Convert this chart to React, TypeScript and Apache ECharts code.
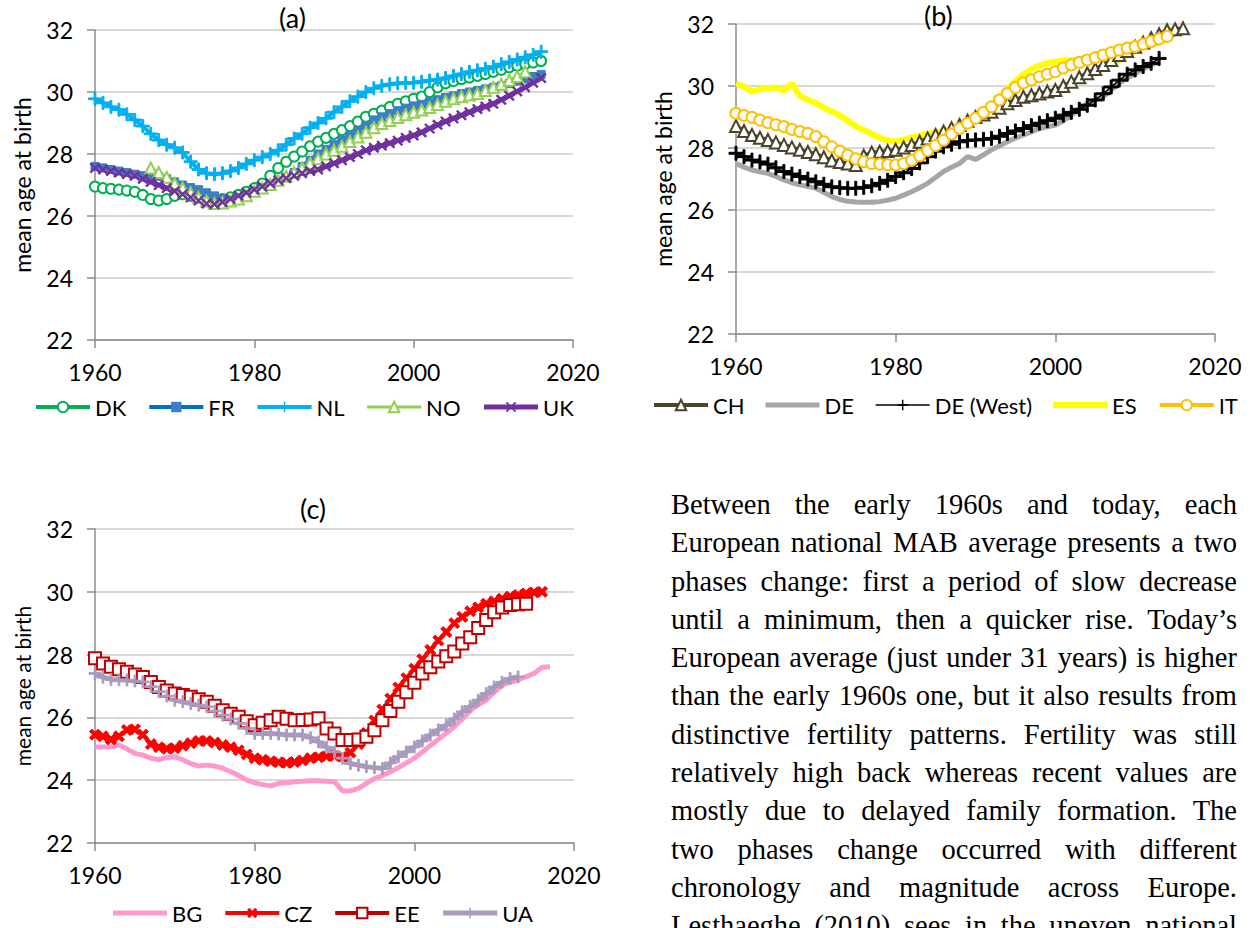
import React, { useEffect, useRef } from "react";
import * as echarts from "echarts";

// ---------- data ----------
const START_YEAR = 1960;
const X_MIN = 1960;
const X_MAX = 2020;
const X_STEP = 20;
const Y_MIN = 22;
const Y_MAX = 32;
const Y_STEP = 2;

// panel (a)
const DK = [26.95, 26.9, 26.88, 26.85, 26.82, 26.78, 26.68, 26.55, 26.5, 26.55,
  26.65, 26.7, 26.65, 26.6, 26.55, 26.52, 26.55, 26.6, 26.68, 26.78,
  26.9, 27.05, 27.3, 27.55, 27.75, 27.92, 28.08, 28.25, 28.4, 28.52,
  28.65, 28.77, 28.9, 29.05, 29.2, 29.3, 29.4, 29.52, 29.62, 29.7,
  29.78, 29.85, 30.0, 30.15, 30.28, 30.35, 30.42, 30.47, 30.52, 30.58,
  30.65, 30.72, 30.8, 30.85, 30.9, 30.95, 31.0];
const FR = [27.6, 27.55, 27.5, 27.45, 27.4, 27.35, 27.3, 27.3, 27.28, 27.2,
  27.1, 27.0, 26.92, 26.85, 26.75, 26.65, 26.55, 26.52, 26.55, 26.65,
  26.78, 26.9, 27.0, 27.12, 27.25, 27.4, 27.6, 27.8, 28.0, 28.15,
  28.3, 28.45, 28.6, 28.75, 28.92, 29.1, 29.2, 29.3, 29.4, 29.48,
  29.55, 29.6, 29.68, 29.75, 29.82, 29.88, 29.95, 30.0, 30.05, 30.1,
  30.15, 30.2, 30.27, 30.35, 30.42, 30.5, 30.57];
const NL = [29.78, 29.65, 29.52, 29.43, 29.28, 29.1, 28.9, 28.65, 28.45, 28.3,
  28.2, 28.05, 27.75, 27.5, 27.38, 27.35, 27.38, 27.45, 27.55, 27.68,
  27.8, 27.9, 28.0, 28.12, 28.3, 28.5, 28.65, 28.85, 29.0, 29.15,
  29.35, 29.52, 29.7, 29.85, 30.0, 30.12, 30.2, 30.25, 30.28, 30.29,
  30.3, 30.33, 30.37, 30.4, 30.45, 30.52, 30.58, 30.65, 30.7, 30.75,
  30.82, 30.9, 30.97, 31.05, 31.12, 31.2, 31.3];
const NO_START = 1967;
const NO = [27.55, 27.4, 27.25, 27.05, 26.9, 26.75, 26.6, 26.48, 26.4, 26.42,
  26.48, 26.55, 26.65, 26.8, 26.9, 27.02, 27.15, 27.28, 27.4, 27.55,
  27.7, 27.85, 28.0, 28.12, 28.25, 28.4, 28.55, 28.7, 28.85, 28.98,
  29.08, 29.18, 29.27, 29.35, 29.42, 29.5, 29.6, 29.7, 29.78, 29.85,
  29.9, 29.95, 30.05, 30.15, 30.25, 30.38, 30.5, 30.65];
const UK = [27.55, 27.5, 27.45, 27.4, 27.35, 27.3, 27.2, 27.1, 27.0, 26.9,
  26.8, 26.7, 26.6, 26.5, 26.4, 26.38, 26.45, 26.55, 26.65, 26.75,
  26.85, 26.95, 27.05, 27.15, 27.22, 27.3, 27.38, 27.45, 27.5, 27.6,
  27.7, 27.8, 27.9, 28.0, 28.12, 28.2, 28.27, 28.35, 28.43, 28.52,
  28.6, 28.7, 28.82, 28.94, 29.05, 29.15, 29.25, 29.35, 29.45, 29.53,
  29.62, 29.75, 29.88, 30.02, 30.15, 30.3, 30.45];

// panel (b)
const CH = [28.71, 28.55, 28.42, 28.33, 28.26, 28.18, 28.1, 28.02, 27.94, 27.87,
  27.8, 27.7, 27.6, 27.55, 27.5, 27.45, 27.75, 27.85, 27.88, 27.9,
  27.94, 28.02, 28.1, 28.2, 28.31, 28.42, 28.53, 28.64, 28.74, 28.88,
  29.0, 29.08, 29.17, 29.3, 29.44, 29.55, 29.65, 29.7, 29.76, 29.82,
  29.87, 30.0, 30.14, 30.28, 30.41, 30.55, 30.68, 30.84, 31.0, 31.13,
  31.27, 31.4, 31.54, 31.67, 31.8, 31.83, 31.86];
const DE = [27.5, 27.38, 27.29, 27.23, 27.18, 27.08, 26.97, 26.88, 26.81, 26.76,
  26.7, 26.57, 26.43, 26.34, 26.28, 26.26, 26.25, 26.25, 26.27, 26.32,
  26.38, 26.48, 26.59, 26.72, 26.86, 27.05, 27.24, 27.38, 27.5, 27.72,
  27.63, 27.78, 27.94, 28.07, 28.2, 28.32, 28.42, 28.52, 28.63, 28.68,
  28.74, 28.88, 29.06, 29.25, 29.44, 29.55, 29.66, 29.88, 30.09, 30.25,
  30.41, 30.55, 30.68, 30.78];
const DE_WEST = [27.83, 27.72, 27.61, 27.55, 27.48, 27.36, 27.24, 27.16, 27.08, 27.0,
  26.91, 26.83, 26.75, 26.72, 26.7, 26.7, 26.73, 26.78, 26.86, 26.96,
  27.08, 27.2, 27.34, 27.52, 27.72, 27.9, 28.04, 28.12, 28.2, 28.24,
  28.26, 28.28, 28.31, 28.38, 28.47, 28.55, 28.63, 28.72, 28.8, 28.88,
  28.96, 29.06, 29.15, 29.25, 29.38, 29.55, 29.75, 29.97, 30.19, 30.38,
  30.52, 30.63, 30.73, 30.89];
const ES = [30.08, 29.98, 29.82, 29.9, 29.93, 29.95, 29.85, 30.08, 29.68, 29.55,
  29.45, 29.3, 29.18, 29.05, 28.88, 28.7, 28.58, 28.45, 28.33, 28.24,
  28.2, 28.27, 28.34, 28.4, 28.45, 28.5, 28.55, 28.6, 28.68, 28.82,
  29.0, 29.18, 29.38, 29.62, 29.9, 30.15, 30.38, 30.55, 30.66, 30.74,
  30.78, 30.82, 30.84, 30.85, 30.86, 30.88, 30.9, 30.88, 30.84, 31.0,
  31.15, 31.3, 31.45, 31.6, 31.72, 31.8];
const IT = [29.12, 29.05, 28.99, 28.9, 28.82, 28.75, 28.69, 28.6, 28.53, 28.47,
  28.37, 28.2, 28.04, 27.9, 27.77, 27.65, 27.56, 27.5, 27.48, 27.46,
  27.45, 27.5, 27.6, 27.75, 27.92, 28.08, 28.25, 28.45, 28.63, 28.8,
  28.96, 29.15, 29.33, 29.55, 29.76, 29.95, 30.1, 30.2, 30.3, 30.38,
  30.46, 30.58, 30.68, 30.76, 30.84, 30.92, 31.0, 31.08, 31.16, 31.22,
  31.27, 31.35, 31.43, 31.52, 31.6];

// panel (c)
const BG = [25.06, 25.06, 25.06, 25.12, 25.0, 24.85, 24.8, 24.7, 24.66, 24.72,
  24.75, 24.65, 24.53, 24.45, 24.48, 24.45, 24.38, 24.27, 24.15, 24.0,
  23.92, 23.86, 23.82, 23.9, 23.92, 23.95, 23.97, 23.98, 23.98, 23.97,
  23.95, 23.66, 23.66, 23.74, 23.9, 24.05, 24.15, 24.27, 24.4, 24.55,
  24.7, 24.9, 25.1, 25.3, 25.5, 25.7, 25.95, 26.22, 26.4, 26.55,
  26.8, 27.03, 27.12, 27.19, 27.3, 27.4, 27.6, 27.61];
const CZ = [25.45, 25.4, 25.3, 25.4, 25.6, 25.62, 25.45, 25.15, 25.05, 25.0,
  25.02, 25.1, 25.18, 25.25, 25.25, 25.2, 25.12, 25.05, 24.95, 24.82,
  24.7, 24.65, 24.6, 24.57, 24.55, 24.58, 24.63, 24.7, 24.73, 24.76,
  24.78, 24.75, 24.88, 25.15, 25.5, 25.9, 26.25, 26.6, 26.95, 27.25,
  27.55, 27.85, 28.15, 28.45, 28.72, 29.0, 29.2, 29.38, 29.5, 29.62,
  29.7, 29.78, 29.85, 29.9, 29.95, 29.98, 30.0];
const EE = [27.88, 27.72, 27.61, 27.53, 27.45, 27.37, 27.29, 27.13, 26.97, 26.86,
  26.76, 26.71, 26.66, 26.58, 26.5, 26.37, 26.23, 26.12, 26.02, 25.88,
  25.75, 25.83, 25.91, 26.02, 25.96, 25.91, 25.92, 25.93, 25.97, 25.65,
  25.49, 25.28, 25.28, 25.3, 25.38, 25.59, 25.91, 26.2, 26.5, 26.8,
  27.1, 27.4, 27.6, 27.78, 27.95, 28.1, 28.35, 28.55, 28.85, 29.1,
  29.35, 29.5, 29.58, 29.6, 29.62];
const UA = [27.4, 27.28, 27.21, 27.2, 27.19, 27.16, 27.13, 26.98, 26.82, 26.68,
  26.55, 26.5, 26.44, 26.39, 26.34, 26.2, 26.07, 25.95, 25.81, 25.65,
  25.49, 25.49, 25.49, 25.47, 25.44, 25.44, 25.44, 25.35, 25.22, 25.05,
  24.9, 24.7, 24.53, 24.48, 24.43, 24.4, 24.37, 24.55, 24.75, 24.9,
  25.06, 25.25, 25.44, 25.6, 25.75, 25.95, 26.18, 26.35, 26.55, 26.76,
  26.97, 27.12, 27.24, 27.29];

const PANEL_TITLES = ["(a)", "(b)", "(c)"];
const Y_NAME = "mean age at birth";

const PARAGRAPH_LINES = [
  "Between the early 1960s and today, each",
  "European national MAB average presents a two",
  "phases change: first a period of slow decrease",
  "until a minimum, then a quicker rise. Today\u2019s",
  "European average (just under 31 years) is higher",
  "than the early 1960s one, but it also results from",
  "distinctive fertility patterns. Fertility was still",
  "relatively high back whereas recent values are",
  "mostly due to delayed family formation. The",
  "two phases change occurred with different",
  "chronology and magnitude across Europe.",
  "Lesthaeghe (2010) sees in the uneven national",
];

// ---------- helpers ----------
const FONT = "Lato";
const pairs = (start: number, vals: number[]) => vals.map((v, i) => [start + i, v]);

const PLUS = "path://M4.3,0 H5.7 V4.3 H10 V5.7 H5.7 V10 H4.3 V5.7 H0 V4.3 H4.3 Z";
const CROSS = "path://M0,1.2 L1.2,0 L5,3.8 L8.8,0 L10,1.2 L6.2,5 L10,8.8 L8.8,10 L5,6.2 L1.2,10 L0,8.8 L3.8,5 Z";
const CROSS_THICK = "path://M0,2.2 L2.2,0 L5,2.8 L7.8,0 L10,2.2 L7.2,5 L10,7.8 L7.8,10 L5,7.2 L2.2,10 L0,7.8 L2.8,5 Z";
const BAR = (h: number) => `path://M0,0 H54 V${h} H0 Z`;

function line(name: string, grid: number, data: number[][], color: string, width: number,
  symbol: string, size: number, markerColor?: string) {
  return {
    type: "line",
    name,
    xAxisIndex: grid,
    yAxisIndex: grid,
    data,
    symbol,
    symbolSize: size,
    showSymbol: symbol !== "none",
    showAllSymbol: true,
    lineStyle: { color, width },
    itemStyle: { color: markerColor || color, borderColor: markerColor || color },
    emphasis: { disabled: true },
  };
}

function xAxis(gi: number) {
  return {
    type: "value", gridIndex: gi, min: X_MIN, max: X_MAX, interval: X_STEP,
    axisLine: { show: true, onZero: false, lineStyle: { color: "#8c8c8c", width: 1.5 } },
    axisTick: { show: true, length: 8, lineStyle: { color: "#8c8c8c", width: 1.5 } },
    splitLine: { show: false },
    axisLabel: { color: "#000", fontFamily: FONT, fontSize: 23, margin: 20, formatter: (v: number) => String(v) },
  };
}

function yAxis(gi: number, nameSize: number) {
  return {
    type: "value", gridIndex: gi, min: Y_MIN, max: Y_MAX, interval: Y_STEP,
    name: Y_NAME, nameLocation: "middle", nameRotate: 90, nameGap: 62,
    nameTextStyle: { color: "#000", fontFamily: FONT, fontSize: nameSize },
    axisLine: { show: true, onZero: false, lineStyle: { color: "#8c8c8c", width: 1.5 } },
    axisTick: { show: true, length: 8, lineStyle: { color: "#8c8c8c", width: 1.5 } },
    splitLine: { show: true, lineStyle: { color: "#d9d9d9", width: 2 } },
    axisLabel: { color: "#000", fontFamily: FONT, fontSize: 23, margin: 22 },
  };
}

function legend(names: any[], left: number, top: number) {
  return {
    data: names, left, top, orient: "horizontal", padding: 0,
    itemWidth: 54, itemHeight: 13, itemGap: 21,
    lineStyle: { width: "inherit" },
    textStyle: { color: "#000", fontFamily: FONT, fontSize: 22 },
    selectedMode: false,
  };
}

function title(text: string, left: number, top: number) {
  return {
    text, left, top, padding: 0,
    textStyle: { fontFamily: FONT, fontSize: 27, fontWeight: "normal", color: "#000" },
  };
}

export default function App() {
  const ref = useRef<HTMLDivElement>(null);

  useEffect(() => {
    if (!ref.current) return;
    const chart = echarts.init(ref.current, undefined, { renderer: "svg" });
    const option = {
      animation: false,
      backgroundColor: "#fff",
      title: [
        title(PANEL_TITLES[0], 279, 4),
        title(PANEL_TITLES[1], 924, 2),
        title(PANEL_TITLES[2], 300, 495),
      ],
      grid: [
        { left: 95, top: 30, width: 478, height: 310 },
        { left: 736, top: 24, width: 479, height: 310 },
        { left: 95, top: 529, width: 479, height: 314 },
      ],
      xAxis: [xAxis(0), xAxis(1), xAxis(2)],
      yAxis: [yAxis(0, 23), yAxis(1, 23), yAxis(2, 21)],
      legend: [
        legend(["DK", "FR", "NL", "NO", "UK"], 34, 396),
        legend(["CH", { name: "DE", icon: BAR(5) }, "DE (West)", { name: "ES", icon: BAR(6) }, "IT"], 652, 394),
        legend([{ name: "BG", icon: BAR(5) }, "CZ", "EE", "UA"], 113, 902),
      ],
      series: [
        line("DK", 0, pairs(START_YEAR, DK), "#00b050", 4, "emptyCircle", 10),
        line("FR", 0, pairs(START_YEAR, FR), "#0070c0", 4, "rect", 8, "#3d7fc6"),
        line("NL", 0, pairs(START_YEAR, NL), "#00b0f0", 4, PLUS, 13),
        line("NO", 0, pairs(NO_START, NO), "#92d050", 3, "emptyTriangle", 11),
        line("UK", 0, pairs(START_YEAR, UK), "#7030a0", 5, CROSS, 10),

        line("CH", 1, pairs(START_YEAR, CH), "#4a452a", 4, "emptyTriangle", 12),
        line("DE", 1, pairs(START_YEAR, DE), "#a6a6a6", 5, "none", 0),
        line("DE (West)", 1, pairs(START_YEAR, DE_WEST), "#000000", 1.5, PLUS, 14),
        line("ES", 1, pairs(START_YEAR, ES), "#ffff00", 6, "none", 0),
        line("IT", 1, pairs(START_YEAR, IT), "#ffc000", 4, "emptyCircle", 11),

        line("BG", 2, pairs(START_YEAR, BG), "#ff99cc", 5, "none", 0),
        line("CZ", 2, pairs(START_YEAR, CZ), "#ff0000", 4, CROSS_THICK, 11),
        line("EE", 2, pairs(START_YEAR, EE), "#c00000", 4, "emptyRect", 12),
        line("UA", 2, pairs(START_YEAR, UA), "#a99bbd", 5, PLUS, 12),
      ],
    };
    chart.setOption(option as any);
    return () => chart.dispose();
  }, []);

  return (
    <div style={{ position: "absolute", left: 0, top: 0, width: 1250, height: 928, overflow: "hidden", background: "#fff" }}>
      <div ref={ref} style={{ position: "absolute", left: 0, top: 0, width: 1250, height: 928 }} />
      <div
        style={{
          position: "absolute", left: 671, top: 486, width: 566,
          fontFamily: "'Liberation Serif', 'Times New Roman', serif",
          fontSize: 28.5, lineHeight: "38.3px", color: "#000",
        }}
      >
        {PARAGRAPH_LINES.map((t, i) => (
          <div key={i} style={{ textAlign: "justify", textAlignLast: "justify", whiteSpace: "normal" } as any}>
            {t}
          </div>
        ))}
      </div>
    </div>
  );
}
